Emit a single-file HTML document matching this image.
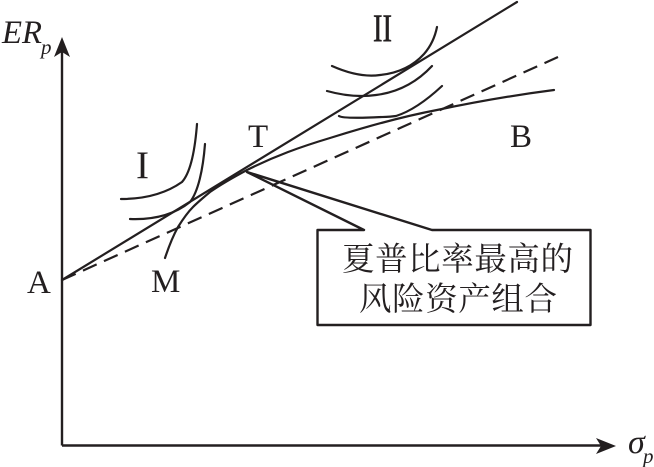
<!DOCTYPE html>
<html><head><meta charset="utf-8">
<style>html,body{margin:0;padding:0;background:#fff}svg{display:block}</style>
</head><body>
<svg width="654" height="467" viewBox="0 0 654 467" xmlns="http://www.w3.org/2000/svg">
<g fill="none" stroke="#231f20" stroke-linecap="round" stroke-linejoin="round">
<path d="M62 445.500V50M62 445.500H604" stroke-width="2.400" stroke-linecap="butt"/>
<path d="M62 280L517 2" stroke-width="2.200"/>
<path d="M62 280L558 57" stroke-width="2.200" stroke-dasharray="15 8" stroke-linecap="butt"/>
<path d="M165 258C169 246 173 236 178 227C183 219 187 213 193 207C198 202 204 197 210 192C220 185 232 178 247 170C275 156 300 147 330 138C365 127 400 117 437 110C475 102 515 95 554 90" stroke-width="2.200"/>
<path d="M121 199C145 199 165 194 182 182C191 172 195 150 197 124" stroke-width="2.200"/>
<path d="M130 219C155 220 175 214 190 202C198 192 203 170 205 144" stroke-width="2.200"/>
<path d="M332 66C350 74 366 77 380 75C400 73 414 65 424 54C431 46 435 37 437 27" stroke-width="2.200"/>
<path d="M327 91C345 96 362 97 376 95C400 92 418 81 432 66" stroke-width="2.200"/>
<path d="M339 116C342 118 356 118 370 117.500C380 117 390 117 396 116C412 111 428 99 442 86" stroke-width="2.200"/>
<path d="M364 230L247 172L432 230H590.500V325H317.500V230H364" stroke-width="2.400"/>
</g>
<path d="M62 37L70 57L62 52L54 57Z" fill="#231f20"/>
<path d="M616 446L596 438L601 446L596 454Z" fill="#231f20"/>
<g font-family="'Liberation Serif',serif" fill="#231f20">
<text x="2" y="43" font-size="33" font-style="italic" textLength="40" lengthAdjust="spacingAndGlyphs">ER</text>
<text x="41" y="54" font-size="21" font-style="italic">p</text>
<text x="628" y="453" font-size="34" font-style="italic">σ</text>
<text x="643" y="463" font-size="21" font-style="italic">p</text>
<text x="136" y="178" font-size="39">I</text>
<text x="248" y="147" font-size="33">T</text>
<text x="510" y="147" font-size="33">B</text>
<text x="27" y="293" font-size="33">A</text>
<text x="151" y="292" font-size="33">M</text>
<text x="373" y="41" font-size="39" stroke="#231f20" stroke-width="0.600" textLength="19" lengthAdjust="spacingAndGlyphs">II</text>
</g>
<g font-family="'Liberation Serif','Noto Serif CJK SC',serif" fill="#231f20" font-size="32.500">
<text x="342" y="270" textLength="231">夏普比率最高的</text>
<text x="359" y="310" textLength="198">风险资产组合</text>
</g>
</svg>
</body></html>
